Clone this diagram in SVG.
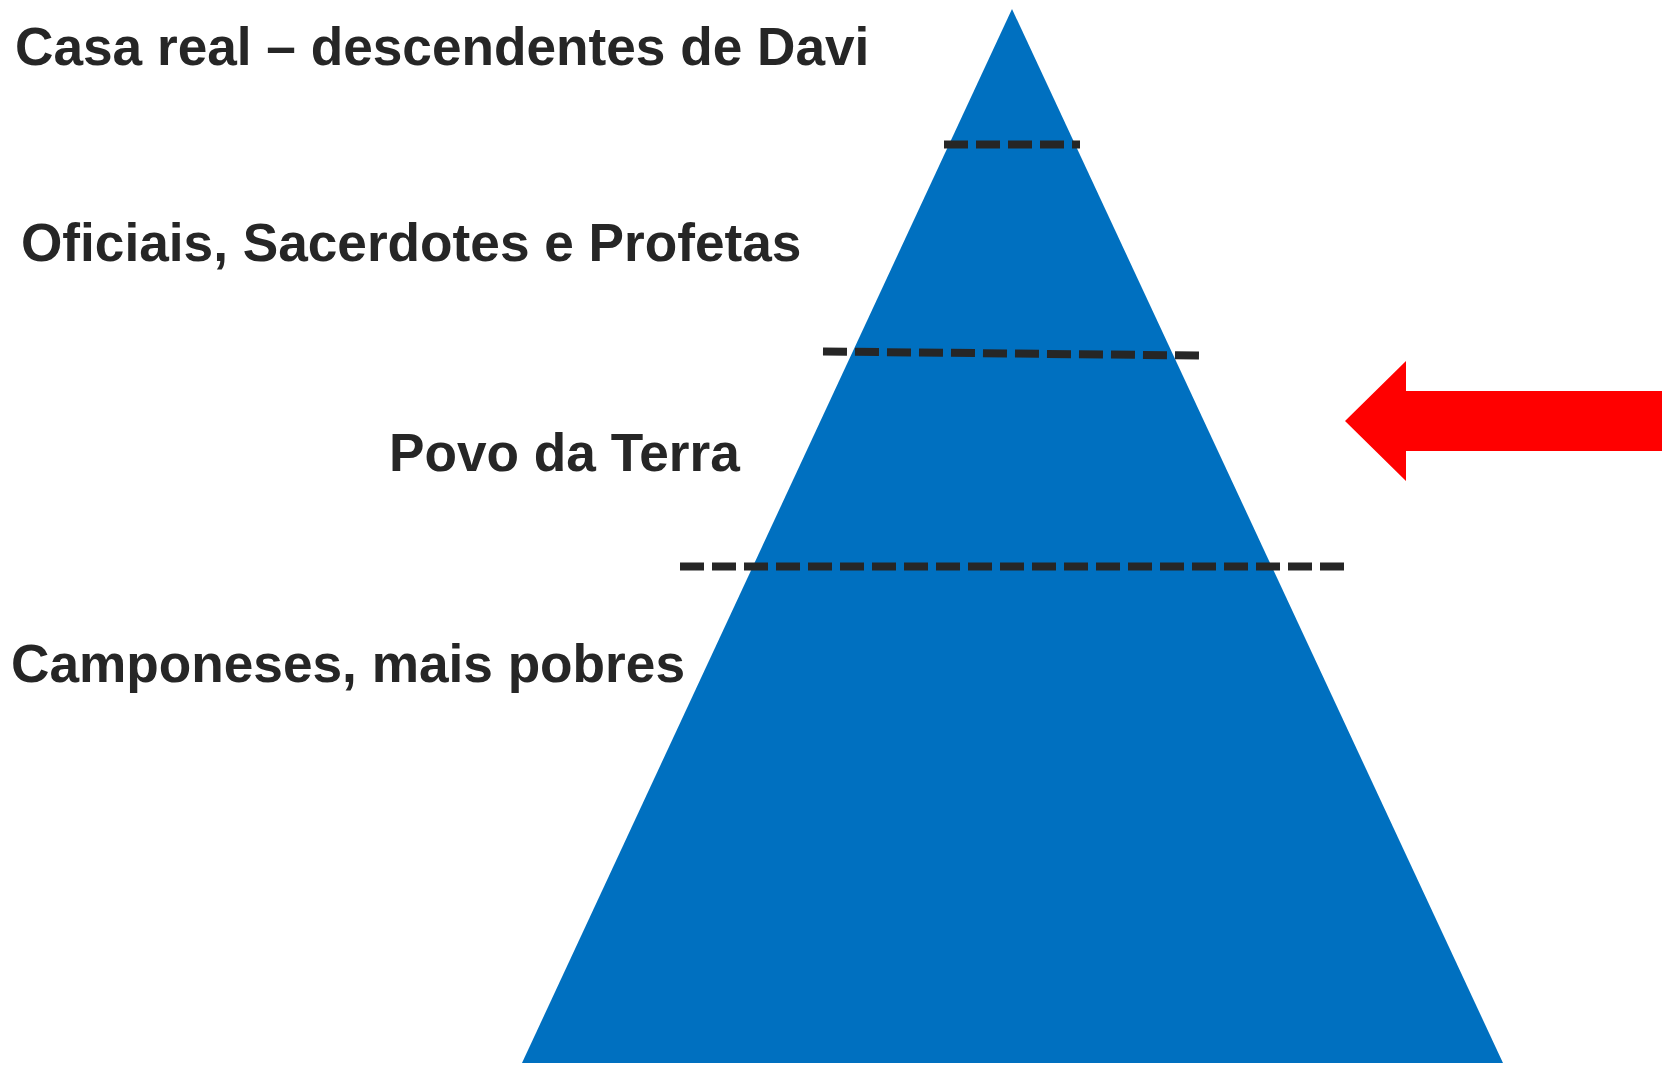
<svg xmlns="http://www.w3.org/2000/svg" width="1672" height="1066" viewBox="0 0 1672 1066">
<style>
.lbl{font-family:"Liberation Sans",Arial,sans-serif;font-weight:bold;font-size:53.2px;fill:#262626}
.dash{stroke:#262626;stroke-width:8;stroke-dasharray:24 8;fill:none}
</style>
<rect width="1672" height="1066" fill="#ffffff"/>
<g id="pyramid">
<polygon points="1012,9 1503,1063 522,1063" fill="#0070C0"/>
</g>
<g id="connectors">
<line class="dash" x1="944" y1="144.5" x2="1080" y2="144.5"/>
<line class="dash" x1="823" y1="351.5" x2="1199" y2="355.5"/>
<line class="dash" x1="680" y1="566.5" x2="1344" y2="566.5"/>
</g>
<g id="arrow">
<polygon points="1345,421 1406,361 1406,391 1662,391 1662,451 1406,451 1406,481" fill="#FF0000"/>
</g>
<g id="label-casa-real"><text class="lbl" x="15" y="65">Casa real – descendentes de Davi</text></g>
<g id="label-oficiais"><text class="lbl" x="21" y="261">Oficiais, Sacerdotes e Profetas</text></g>
<g id="label-povo"><text class="lbl" x="389" y="471">Povo da Terra</text></g>
<g id="label-camponeses"><text class="lbl" x="11" y="682">Camponeses, mais pobres</text></g>
</svg>
